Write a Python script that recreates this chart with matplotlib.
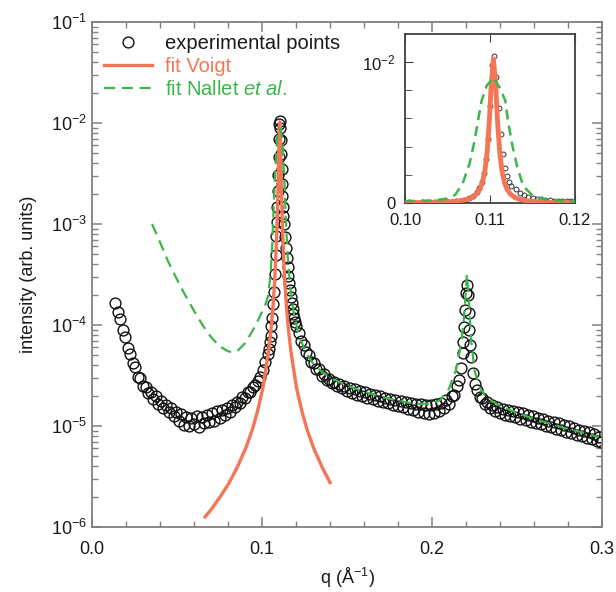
import numpy as np
import matplotlib
matplotlib.use("Agg")
import matplotlib.pyplot as plt
from matplotlib.lines import Line2D
from matplotlib.ticker import LogLocator, FixedLocator, FuncFormatter, MultipleLocator, NullFormatter

plt.rcParams['font.family'] = ['Liberation Sans', 'DejaVu Sans']
plt.rcParams['mathtext.fontset'] = 'custom'
plt.rcParams['mathtext.rm'] = 'Liberation Sans'
plt.rcParams['mathtext.it'] = 'Liberation Sans:italic'
plt.rcParams['mathtext.bf'] = 'Liberation Sans:bold'

# experimental points, q in 1/A, intensity as log10
q_low = [0.0135, 0.0150, 0.0165, 0.0180, 0.0195, 0.0210, 0.0225, 0.0240, 0.0255, 0.0270,
         0.0285, 0.0300, 0.0315, 0.0330, 0.0345, 0.0360, 0.0375, 0.0390, 0.0405, 0.0420,
         0.0435, 0.0450, 0.0465, 0.0480, 0.0495, 0.0510, 0.0525, 0.0540, 0.0555, 0.0570,
         0.0585, 0.0600, 0.0615, 0.0630, 0.0645, 0.0660, 0.0675, 0.0690, 0.0705, 0.0720,
         0.0735, 0.0750, 0.0765, 0.0780, 0.0795, 0.0810, 0.0825, 0.0840, 0.0855, 0.0870,
         0.0885, 0.0900, 0.0915, 0.0930, 0.0945, 0.0960, 0.0975, 0.0990, 0.1005, 0.1020,
         0.1035]
logi_low = [-3.78, -3.87, -3.94, -4.05, -4.12, -4.23, -4.29, -4.38, -4.42, -4.51,
            -4.52, -4.60, -4.61, -4.67, -4.66, -4.73, -4.70, -4.78, -4.75, -4.82,
            -4.79, -4.86, -4.82, -4.90, -4.86, -4.95, -4.88, -4.99, -4.91, -5.00,
            -4.92, -4.98, -4.90, -5.01, -4.91, -4.97, -4.89, -4.96, -4.87, -4.95,
            -4.85, -4.92, -4.84, -4.89, -4.82, -4.86, -4.79, -4.81, -4.76, -4.77,
            -4.71, -4.72, -4.66, -4.66, -4.61, -4.59, -4.55, -4.51, -4.45, -4.37,
            -4.29]

q_peak = [0.1040, 0.1045, 0.1050, 0.1055, 0.1060, 0.1065, 0.1070, 0.1075, 0.1080,
          0.10850, 0.10875, 0.10900, 0.10925, 0.10950, 0.10975, 0.11000, 0.11025, 0.11050,
          0.11075, 0.11100, 0.11125, 0.11150, 0.11175, 0.11200, 0.11225, 0.11250,
          0.1130, 0.1135, 0.1140, 0.1145, 0.1150, 0.1155, 0.1160, 0.1165, 0.1170,
          0.1175, 0.1180, 0.1185, 0.1190, 0.1195, 0.1200]
logi_peak = [-4.24, -4.17, -4.11, -4.01, -3.93, -3.79, -3.67, -3.49, -3.31,
             -3.12, -2.98, -2.83, -2.67, -2.51, -2.34, -2.16, -2.01, -1.98,
             -2.05, -2.17, -2.31, -2.46, -2.60, -2.72, -2.83, -2.92,
             -3.00, -3.13, -3.24, -3.34, -3.43, -3.51, -3.58, -3.65, -3.72,
             -3.78, -3.84, -3.89, -3.93, -3.97, -4.01]

q_high = [0.1215, 0.1230, 0.1245, 0.1260, 0.1275, 0.1290, 0.1305, 0.1320, 0.1335, 0.1350,
          0.1365, 0.1380, 0.1395, 0.1410, 0.1425, 0.1440, 0.1455, 0.1470, 0.1485, 0.1500,
          0.1515, 0.1530, 0.1545, 0.1560, 0.1575, 0.1590, 0.1605, 0.1620, 0.1635, 0.1650,
          0.1665, 0.1680, 0.1695, 0.1710, 0.1725, 0.1740, 0.1755, 0.1770, 0.1785, 0.1800,
          0.1815, 0.1830, 0.1845, 0.1860, 0.1875, 0.1890, 0.1905, 0.1920, 0.1935, 0.1950,
          0.1965, 0.1980, 0.1995, 0.2010, 0.2025, 0.2040, 0.2055, 0.2070, 0.2085, 0.2100,
          0.2115, 0.2130, 0.2145, 0.2160, 0.2170, 0.2180, 0.2185, 0.2190, 0.2195, 0.2200,
          0.2205, 0.2210, 0.2215, 0.2220, 0.2225, 0.2230, 0.2240, 0.2250, 0.2265, 0.2280,
          0.2295, 0.2310, 0.2325, 0.2340, 0.2355, 0.2370, 0.2385, 0.2400, 0.2415, 0.2430,
          0.2445, 0.2460, 0.2475, 0.2490, 0.2505, 0.2520, 0.2535, 0.2550, 0.2565, 0.2580,
          0.2595, 0.2610, 0.2625, 0.2640, 0.2655, 0.2670, 0.2685, 0.2700, 0.2715, 0.2730,
          0.2745, 0.2760, 0.2775, 0.2790, 0.2805, 0.2820, 0.2835, 0.2850, 0.2865, 0.2880,
          0.2895, 0.2910, 0.2925, 0.2940, 0.2955, 0.2970, 0.2985, 0.2995]
logi_high = [-4.08, -4.16, -4.20, -4.27, -4.30, -4.37, -4.38, -4.44, -4.44, -4.50,
             -4.49, -4.54, -4.53, -4.57, -4.56, -4.60, -4.58, -4.62, -4.60, -4.65,
             -4.62, -4.67, -4.63, -4.69, -4.65, -4.70, -4.66, -4.72, -4.68, -4.73,
             -4.69, -4.75, -4.70, -4.76, -4.72, -4.77, -4.73, -4.79, -4.74, -4.80,
             -4.75, -4.81, -4.76, -4.83, -4.77, -4.84, -4.78, -4.86, -4.78, -4.87,
             -4.79, -4.88, -4.79, -4.87, -4.78, -4.85, -4.77, -4.82, -4.74, -4.78,
             -4.70, -4.69, -4.60, -4.54, -4.43, -4.28, -4.17, -4.02, -3.85, -3.68,
             -3.60, -3.70, -3.88, -4.05, -4.20, -4.32, -4.48, -4.58, -4.64, -4.71,
             -4.72, -4.78, -4.76, -4.82, -4.79, -4.85, -4.81, -4.87, -4.83, -4.89,
             -4.84, -4.90, -4.85, -4.91, -4.86, -4.93, -4.87, -4.94, -4.89, -4.96,
             -4.90, -4.97, -4.92, -4.98, -4.93, -5.00, -4.95, -5.01, -4.96, -5.03,
             -4.97, -5.04, -4.99, -5.06, -5.00, -5.07, -5.02, -5.09, -5.04, -5.10,
             -5.05, -5.12, -5.06, -5.13, -5.08, -5.15, -5.11, -5.16]

# Voigt fit
q_voigt = [0.0665, 0.0704, 0.0754, 0.0804, 0.0854, 0.0904, 0.0944, 0.0974, 0.1004, 0.1024,
           0.1039, 0.1054, 0.1064, 0.1074, 0.1079, 0.1084, 0.1088, 0.1091, 0.1094, 0.10965,
           0.1099, 0.11015, 0.1104, 0.11065, 0.1109, 0.11115, 0.1114, 0.1117, 0.1120, 0.1124,
           0.1129, 0.1134, 0.1144, 0.1154, 0.1169, 0.1184, 0.1204, 0.1234, 0.1264, 0.1304,
           0.1354, 0.1400]
logi_voigt = [-5.90, -5.82, -5.70, -5.57, -5.41, -5.22, -5.03, -4.85, -4.63, -4.42,
              -4.25, -4.02, -3.83, -3.57, -3.40, -3.20, -3.01, -2.84, -2.64, -2.45,
              -2.25, -2.07, -1.99, -2.07, -2.25, -2.45, -2.64, -2.84, -3.01, -3.20,
              -3.40, -3.57, -3.83, -4.02, -4.25, -4.42, -4.63, -4.85, -5.03, -5.22,
              -5.41, -5.56]

# Nallet et al. fit
q_nallet = [0.0353, 0.0400, 0.0450, 0.0500, 0.0550, 0.0600, 0.0650, 0.0700, 0.0750, 0.0800,
            0.0830, 0.0860, 0.0900, 0.0940, 0.0980, 0.1015, 0.1035, 0.1050, 0.1059, 0.1068,
            0.1076, 0.1082, 0.1086, 0.1090, 0.1096, 0.1104, 0.1112, 0.1118, 0.1121, 0.1126,
            0.1132, 0.1139, 0.1151, 0.1165, 0.1190, 0.1220, 0.1260, 0.1300, 0.1350, 0.1400,
            0.1500, 0.1600, 0.1700, 0.1800, 0.1900, 0.2000, 0.2050, 0.2100, 0.2140, 0.2170,
            0.2190, 0.2205, 0.2215, 0.2230, 0.2250, 0.2280, 0.2320, 0.2400, 0.2500, 0.2600,
            0.2700, 0.2800, 0.2900, 0.2980]
logi_nallet = [-3.00, -3.18, -3.38, -3.55, -3.71, -3.86, -4.00, -4.12, -4.21, -4.26,
               -4.27, -4.25, -4.18, -4.07, -3.94, -3.82, -3.72, -3.50, -3.24, -2.85,
               -2.55, -2.35, -2.23, -2.14, -2.08, -2.05, -2.09, -2.14, -2.23, -2.38,
               -2.59, -2.92, -3.32, -3.62, -3.92, -4.12, -4.28, -4.38, -4.46, -4.52,
               -4.60, -4.66, -4.71, -4.75, -4.78, -4.78, -4.74, -4.63, -4.45, -4.20,
               -3.90, -3.50, -3.70, -4.15, -4.45, -4.62, -4.72, -4.80, -4.87, -4.93,
               -4.98, -5.03, -5.07, -5.11]

q_exp = np.array(q_low + q_peak + q_high)
i_exp = 10.0 ** np.array(logi_low + logi_peak + logi_high)
i_voigt = 10.0 ** np.array(logi_voigt)
i_nallet = 10.0 ** np.array(logi_nallet)

red = '#F47656'
green = '#3DB54A'
spine_grey = '#808080'

fig = plt.figure(figsize=(6.16, 5.92), dpi=100)
ax = fig.add_axes([0.1494, 0.1098, 0.8279, 0.8530])

ax.plot(q_exp, i_exp, 'o', mfc='none', mec='#111111', mew=1.0, ms=7.8, zorder=2)
ax.plot(q_voigt, i_voigt, '-', color=red, lw=2.4, zorder=3)
ax.plot(q_nallet, i_nallet, '--', color=green, lw=1.6, dashes=(5, 3), zorder=4)

ax.set_yscale('log')
ax.set_xlim(0, 0.3)
ax.set_ylim(1e-6, 1e-1)
ax.xaxis.set_major_locator(MultipleLocator(0.1))
ax.xaxis.set_minor_locator(MultipleLocator(0.02))
ax.xaxis.set_major_formatter(FuncFormatter(lambda v, p: '%.1f' % v))
ax.yaxis.set_major_locator(LogLocator(base=10, numticks=10))
ax.yaxis.set_minor_locator(LogLocator(base=10, subs=np.arange(2, 10), numticks=10))
ax.yaxis.set_minor_formatter(NullFormatter())
ax.yaxis.set_major_formatter(FuncFormatter(lambda v, p: r'$10^{%d}$' % round(np.log10(v))))

for s in ax.spines.values():
    s.set_color(spine_grey)
    s.set_linewidth(1.3)
ax.tick_params(which='both', direction='in', top=True, right=True, color=spine_grey,
               labelsize=13, labelcolor='#1a1a1a')
ax.tick_params(which='major', length=7, width=1.1)
ax.tick_params(which='minor', length=4, width=1.0)
ax.tick_params(axis='x', pad=10)

ax.set_xlabel(r'q (Å$^{-1}$)', fontsize=13, color='#1a1a1a', labelpad=6)
ax.set_ylabel('intensity (arb. units)', fontsize=13, color='#1a1a1a', labelpad=10)

handles = [Line2D([], [], ls='none', marker='o', mfc='none', mec='#111111', mew=1.0, ms=7.8),
           Line2D([], [], color=red, lw=2.4),
           Line2D([], [], color=green, lw=1.6, ls='--', dashes=(5, 3))]
labels = ['experimental points', 'fit Voigt', r'fit Nallet $\it{et\ al.}$']
leg = ax.legend(handles, labels, loc='upper left', frameon=False, fontsize=14.5,
                handlelength=2.4, handletextpad=0.6, labelspacing=0.2,
                borderaxespad=0.3, borderpad=0.3)
for txt, c in zip(leg.get_texts(), ['#1a1a1a', red, green]):
    txt.set_color(c)

# inset, linear scale around the first peak
axin = fig.add_axes([0.6575, 0.6571, 0.2760, 0.2855])
axin.plot(q_exp, i_exp, 'o', mfc='none', mec='#333333', mew=0.7, ms=3.5, zorder=2)
axin.plot(q_voigt, i_voigt, '-', color=red, lw=3.5, zorder=3)
axin.plot(q_nallet, i_nallet, '--', color=green, lw=1.8, dashes=(4, 2.5), zorder=4)
axin.set_xlim(0.10, 0.12)
axin.set_ylim(0, 0.012)
axin.xaxis.set_major_locator(FixedLocator([0.10, 0.11, 0.12]))
axin.xaxis.set_major_formatter(FuncFormatter(lambda v, p: '%.2f' % v))
axin.yaxis.set_major_locator(FixedLocator([0, 0.01]))
axin.yaxis.set_minor_locator(FixedLocator([0.002, 0.004, 0.006, 0.008]))
axin.yaxis.set_major_formatter(FuncFormatter(lambda v, p: '0' if v == 0 else r'$10^{-2}$'))
for s in axin.spines.values():
    s.set_color('#404040')
    s.set_linewidth(1.3)
axin.tick_params(which='both', direction='in', top=True, right=False, color='#404040',
                 labelsize=12, labelcolor='#1a1a1a')
axin.tick_params(which='major', length=6)
axin.tick_params(which='minor', length=5)
axin.tick_params(axis='x', pad=7)
axin.tick_params(axis='y', pad=7)

fig.savefig('out.png', dpi=100, facecolor='white')
